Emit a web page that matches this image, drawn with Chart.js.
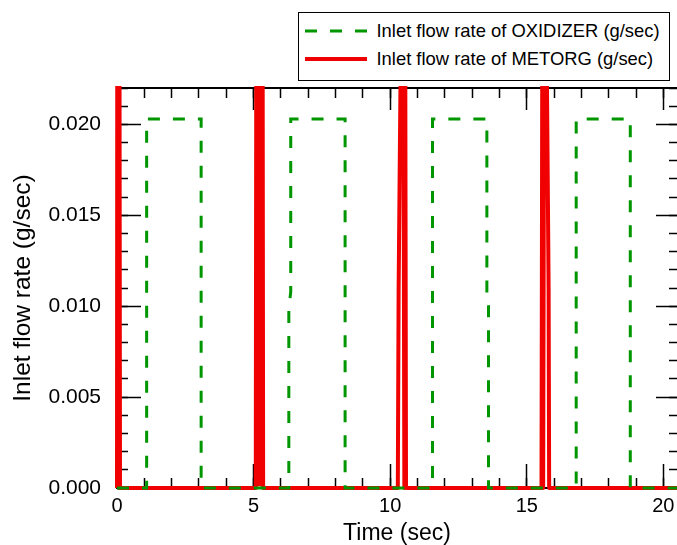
<!DOCTYPE html>
<html>
<head>
<meta charset="utf-8">
<script src="https://cdn.jsdelivr.net/npm/chart.js@4.4.1/dist/chart.umd.min.js"></script>
<style>
  html, body { margin: 0; padding: 0; background: #fff; }
  #wrap { position: relative; width: 677px; height: 545px; overflow: hidden; }
  #flowChart { position: absolute; left: 0; top: 0; }
  #legend {
    position: absolute; left: 298px; top: 12px; width: 372px; height: 69px;
    box-sizing: border-box; border: 1.5px solid #000; background: #fff;
    font: 18.4px "Liberation Sans", Arial, sans-serif; color: #000;
  }
  .row { position: absolute; left: 5.5px; height: 18px; line-height: 18px; display: flex; align-items: center; white-space: nowrap; }
  .row svg { margin-right: 10px; }
</style>
</head>
<body>
<div id="wrap">
  <canvas id="flowChart" width="677" height="545"></canvas>
  <div id="legend"></div>
</div>
<script>
// series labels
const seriesLabels = ['Inlet flow rate of OXIDIZER (g/sec)', 'Inlet flow rate of METORG (g/sec)'];

// oxidizer (green dashed)
const oxidizerTime = [0, 1.085, 1.085, 3.08, 3.08, 6.29, 6.29, 6.36, 6.36, 8.35, 8.35, 11.55, 11.55, 13.54, 13.54, 13.60, 13.60, 16.81, 16.81, 18.79, 18.79, 20.5];
const oxidizerFlow = [0, 0, 0.0203, 0.0203, 0, 0, 0.0098, 0.0108, 0.0203, 0.0203, 0, 0, 0.0203, 0.0203, 0.0106, 0.0100, 0, 0, 0.0203, 0.0203, 0, 0];

// metorg (red) - spike tops run off the top of the plot, the one near 5 s chatters
const metorgTime = [0, 0.01, 0.09, 0.11,
  5.08, 5.10, 5.12, 5.14, 5.16, 5.18, 5.20, 5.22, 5.24, 5.26, 5.28, 5.30, 5.315, 5.33, 5.35,
  10.28, 10.31, 10.40, 10.48, 10.52, 10.55, 10.58,
  15.54, 15.57, 15.60, 15.64, 15.72, 15.80, 15.82,
  20.5];
const metorgFlow = [0, 0.026, 0.026, 0,
  0, 0.026, 0.0002, 0.026, 0.0002, 0.026, 0.0002, 0.026, 0.0002, 0.026, 0.0002, 0.026, 0.0002, 0.026, 0,
  0, 0.011, 0.026, 0.026, 0, 0.026, 0,
  0, 0.026, 0, 0.026, 0.026, 0.011, 0,
  0];

// axes
const xMax = 20.5, xStep = 5, xMinorStep = 1;
const yMax = 0.022, yStep = 0.005, yMinorStep = 0.001;

const toPoints = (xs, ys) => xs.map((x, i) => ({ x: x, y: ys[i] }));

Chart.defaults.font.family = '"Liberation Sans", Arial, sans-serif';
Chart.defaults.color = '#000';

function insideTicks(len) {
  return { drawOnChartArea: false, drawTicks: true, tickLength: -len, tickWidth: 1.5, tickColor: '#000' };
}
function fixSize(size) {
  return function (scale) {
    if (scale.isHorizontal()) scale.height = size; else scale.width = size;
  };
}
// zero-size axis that only draws tick marks pointing into the plot
function tickAxis(axis, position, step, len, border) {
  return {
    type: 'linear', axis: axis, position: position, weight: 0,
    min: 0, max: axis === 'x' ? xMax : yMax,
    afterFit: fixSize(0),
    ticks: { display: false, stepSize: step, includeBounds: false },
    grid: insideTicks(len),
    border: border ? { color: '#000', width: 2 } : { display: false }
  };
}

const ctx = document.getElementById('flowChart').getContext('2d');
const flowChart = new Chart(ctx, {
  type: 'line',
  data: {
    datasets: [{
      label: seriesLabels[0],
      data: toPoints(oxidizerTime, oxidizerFlow),
      borderColor: '#009600',
      borderWidth: 3,
      borderDash: [12, 13],
      pointRadius: 0,
      tension: 0,
      clip: { left: 3, top: 2, right: 3, bottom: 3 }
    }, {
      label: seriesLabels[1],
      data: toPoints(metorgTime, metorgFlow),
      borderColor: '#f00000',
      borderWidth: 4,
      borderDash: [0], // solid, but keeps chart.js off its pixel-merging fast path
      borderJoinStyle: 'round',
      pointRadius: 0,
      tension: 0,
      clip: { left: 3, top: 2, right: 3, bottom: 3 }
    }]
  },
  options: {
    responsive: false,
    animation: false,
    layout: { padding: { top: 88, left: 0, right: 0, bottom: 0 } },
    plugins: { legend: { display: false }, tooltip: { enabled: false } },
    scales: {
      x: {
        type: 'linear', axis: 'x', position: 'bottom', weight: 1,
        min: 0, max: xMax,
        afterFit: fixSize(57),
        ticks: {
          stepSize: xStep, includeBounds: false, padding: 2, maxRotation: 0, autoSkip: false,
          font: { size: 20, lineHeight: 1.6 }, callback: v => String(v)
        },
        grid: { drawOnChartArea: false, drawTicks: false },
        border: { color: '#000', width: 2 },
        title: { display: true, text: 'Time (sec)', font: { size: 23, lineHeight: 1 }, padding: { top: 0, bottom: 0 } }
      },
      xMajor: tickAxis('x', 'bottom', xStep, 24, false),
      xMinor: tickAxis('x', 'bottom', xMinorStep, 10, false),
      xTop: tickAxis('x', 'top', xStep, 22, true),
      xTopMinor: tickAxis('x', 'top', xMinorStep, 10, false),
      y: {
        type: 'linear', axis: 'y', position: 'left', weight: 1,
        min: 0, max: yMax,
        afterFit: fixSize(117),
        ticks: {
          stepSize: yStep, includeBounds: false, padding: 16,
          font: { size: 21 }, callback: v => v.toFixed(3)
        },
        grid: { drawOnChartArea: false, drawTicks: false },
        border: { color: '#000', width: 2 },
        title: { display: true, text: 'Inlet flow rate (g/sec)', font: { size: 24.5, lineHeight: 1 }, padding: { top: 11, bottom: 0 } }
      },
      yMajor: tickAxis('y', 'left', yStep, 24, false),
      yMinor: tickAxis('y', 'left', yMinorStep, 11, false),
      yRight: tickAxis('y', 'right', yStep, 21, false),
      yRightMinor: tickAxis('y', 'right', yMinorStep, 8, false)
    }
  }
});

// legend box in html, built from the datasets
const legendEl = document.getElementById('legend');
flowChart.data.datasets.forEach((ds, i) => {
  const row = document.createElement('div');
  row.className = 'row';
  row.style.top = (8.5 + i * 28) + 'px';
  const dash = ds.borderDash && ds.borderDash.length > 1 ? ds.borderDash.join(' ') : 'none';
  row.innerHTML = '<svg width="62" height="6"><line x1="0" y1="3" x2="62" y2="3" stroke="' + ds.borderColor +
    '" stroke-width="' + ds.borderWidth + '" stroke-dasharray="' + dash + '"/></svg>';
  const span = document.createElement('span');
  span.textContent = ds.label;
  row.appendChild(span);
  legendEl.appendChild(row);
});
</script>
</body>
</html>
